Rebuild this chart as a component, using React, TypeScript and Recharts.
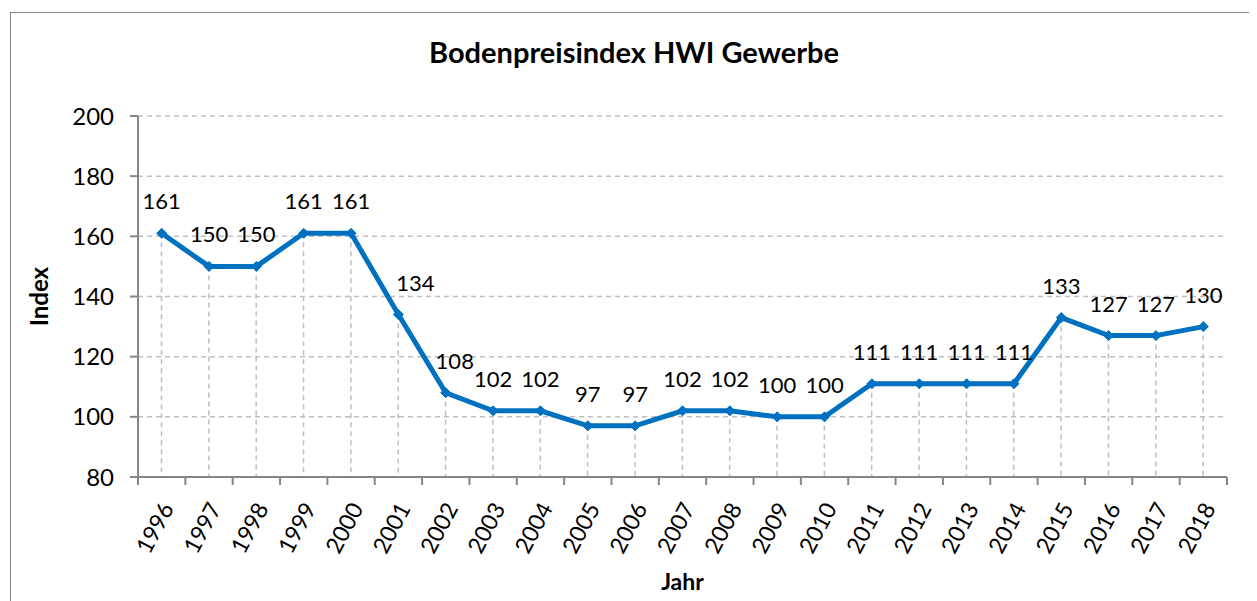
import React from 'react'
import {
  ComposedChart,
  Line,
  Bar,
  XAxis,
  YAxis,
  CartesianGrid,
  LabelList,
} from 'recharts'

// Bodenpreisindex HWI Gewerbe, 1996-2018

const years = [
  '1996', '1997', '1998', '1999', '2000', '2001', '2002', '2003', '2004', '2005', '2006', '2007',
  '2008', '2009', '2010', '2011', '2012', '2013', '2014', '2015', '2016', '2017', '2018',
]
const indexValues = [
  161, 150, 150, 161, 161, 134, 108, 102, 102, 97, 97, 102,
  102, 100, 100, 111, 111, 111, 111, 133, 127, 127, 130,
]
const yTicks = [80, 100, 120, 140, 160, 180, 200]

const BLUE = '#0070C0'
const GRID = '#BFBFBF'
const AXIS = '#868686'
const FONT = 'Lato, "Noto Sans", sans-serif'

const data = years.map((year, i) => ({ year, value: indexValues[i] }))

// Excel setzt die Labels 134 und 108 leicht nach rechts
const labelShift: Record<number, number> = { 5: 17, 6: 9 }

function Diamond(props: any) {
  const { cx, cy } = props
  if (cx == null || cy == null) return null
  const s = 5
  return (
    <path
      d={`M${cx},${cy - s} L${cx + s},${cy} L${cx},${cy + s} L${cx - s},${cy} Z`}
      fill={BLUE}
      stroke={BLUE}
    />
  )
}

// gestrichelte Lotlinie vom Punkt bis zur x-Achse
function DropLine(props: any) {
  const { x, y, width, height } = props
  if (x == null || height == null) return null
  const cx = x + width / 2
  return (
    <line x1={cx} y1={y} x2={cx} y2={y + height} stroke={GRID} strokeWidth={1.5} strokeDasharray="5 4" />
  )
}

function YearTick(props: any) {
  const { x, y, payload, index } = props
  const off = payload?.offset ?? 23.7
  return (
    <g>
      <line x1={x - off} y1={y} x2={x - off} y2={y + 8} stroke={AXIS} strokeWidth={2} />
      {index === years.length - 1 && (
        <line x1={x + off} y1={y} x2={x + off} y2={y + 8} stroke={AXIS} strokeWidth={2} />
      )}
      <text
        transform={`translate(${x + 5},${y + 27}) rotate(-62)`}
        textAnchor="end"
        dominantBaseline="central"
        fontSize={23}
        fontFamily={FONT}
        fill="#000"
      >
        {payload.value}
      </text>
    </g>
  )
}

function ValueLabel(props: any) {
  const { x, y, value, index } = props
  return (
    <text
      x={x + (labelShift[index] ?? 0)}
      y={y - 24}
      textAnchor="middle"
      fontSize={22}
      fontFamily={FONT}
      fill="#000"
    >
      {value}
    </text>
  )
}

export default function App() {
  return (
    <div
      style={{
        position: 'relative',
        width: 1246,
        height: 600,
        marginLeft: 2,
        marginTop: 4,
        border: `1px solid ${AXIS}`,
        background: '#fff',
        fontFamily: FONT,
      }}
    >
      <div
        style={{
          position: 'absolute',
          left: 0,
          right: 0,
          top: 21,
          textAlign: 'center',
          fontSize: 29,
          fontWeight: 700,
          color: '#000',
        }}
      >
        Bodenpreisindex HWI Gewerbe
      </div>
      <ComposedChart
        width={1246}
        height={600}
        data={data}
        margin={{ top: 103, right: 30, bottom: 26, left: 27 }}
        barCategoryGap={0}
      >
        <CartesianGrid vertical={false} stroke={GRID} strokeWidth={1.5} strokeDasharray="5 4" />
        <XAxis
          dataKey="year"
          height={110}
          interval={0}
          tickLine={false}
          tickSize={0}
          tickMargin={0}
          axisLine={{ stroke: AXIS, strokeWidth: 2 }}
          tick={<YearTick />}
          label={{
            value: 'Jahr',
            position: 'insideBottom',
            offset: -3,
            style: { fontSize: 23, fontWeight: 700, fill: '#000', fontFamily: FONT },
          }}
        />
        <YAxis
          width={100}
          domain={[80, 200]}
          ticks={yTicks}
          interval={0}
          tickSize={8}
          tickMargin={16}
          axisLine={{ stroke: AXIS, strokeWidth: 2 }}
          tickLine={{ stroke: AXIS, strokeWidth: 2 }}
          tick={{ fill: '#000', fontSize: 24, fontFamily: FONT }}
          label={{
            value: 'Index',
            angle: -90,
            position: 'insideLeft',
            offset: 1,
            style: { fontSize: 24, fontWeight: 700, fill: '#000', fontFamily: FONT, textAnchor: 'middle' },
          }}
        />
        <Bar dataKey="value" shape={<DropLine />} isAnimationActive={false} />
        <Line
          dataKey="value"
          stroke={BLUE}
          strokeWidth={5}
          dot={<Diamond />}
          activeDot={false}
          isAnimationActive={false}
        >
          <LabelList dataKey="value" content={<ValueLabel />} />
        </Line>
      </ComposedChart>
    </div>
  )
}
